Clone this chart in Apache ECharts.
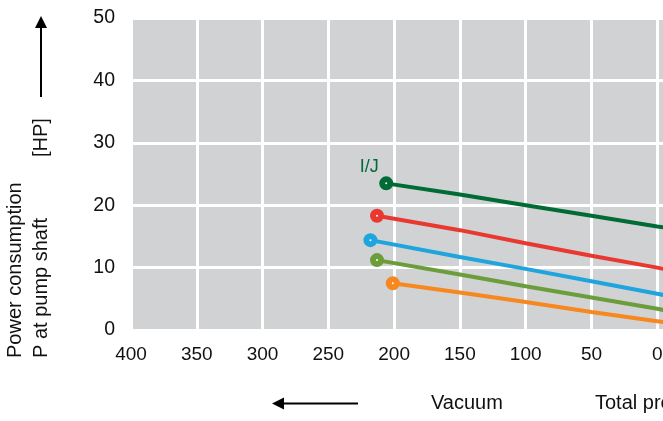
<!DOCTYPE html>
<html>
<head>
<meta charset="utf-8">
<script src="https://cdn.jsdelivr.net/npm/echarts@6/dist/echarts.min.js"></script>
<style>
html,body{margin:0;padding:0;background:#fff;}
#chart{width:663px;height:421px;}
</style>
</head>
<body>
<div id="chart"></div>
<script>
// Vacuum (x) and power consumption [HP] (y) for each curve
var darkGreenX = [206, 150, 100, 50, 0, -10];
var darkGreenY = [23.5, 21.7, 20.0, 18.3, 16.6, 16.3];
var redX = [213, 150, 100, 50, 0, -10];
var redY = [18.3, 16.0, 13.9, 11.9, 10.0, 9.6];
var blueX = [218, 150, 100, 50, 0, -10];
var blueY = [14.4, 11.7, 9.8, 7.8, 5.8, 5.4];
var lightGreenX = [213, 150, 100, 50, 0, -10];
var lightGreenY = [11.2, 8.9, 7.0, 5.2, 3.4, 3.0];
var orangeX = [201, 150, 100, 50, 0, -10];
var orangeY = [7.5, 6.0, 4.5, 2.9, 1.4, 1.1];
var curveLabel = 'I/J';
var yTicks = [0, 10, 20, 30, 40, 50];
var xTicks = [400, 350, 300, 250, 200, 150, 100, 50, 0];

var FONT = '"Liberation Sans", Arial, sans-serif';

function build(xs, ys, color, label) {
  return xs.map(function (x, i) {
    var item = { value: [x, ys[i]] };
    if (i === 0) {
      item.symbol = 'circle';
      if (label) {
        item.label = {
          show: true, formatter: label, position: 'top', offset: [-17, 5],
          color: color, fontSize: 18, fontFamily: FONT
        };
      }
    } else {
      item.symbol = 'none';
    }
    return item;
  });
}

function series(xs, ys, color, label) {
  return {
    type: 'line',
    data: build(xs, ys, color, label),
    symbol: 'circle',
    symbolSize: 8,
    showSymbol: true,
    showAllSymbol: true,
    lineStyle: { color: color, width: 4 },
    itemStyle: { color: '#ffffff', borderColor: color, borderWidth: 6 },
    emphasis: { disabled: true },
    silent: true,
    z: 3
  };
}

var chart = echarts.init(document.getElementById('chart'), null, { renderer: 'canvas' });
chart.setOption({
  animation: false,
  backgroundColor: '#fff',
  grid: {
    left: 131, top: 18, height: 312, width: 592,
    outerBoundsMode: 'none', containLabel: false,
    show: true, backgroundColor: '#d1d2d4', borderWidth: 0
  },
  xAxis: {
    type: 'value', inverse: true, min: -50, max: 400, interval: 50,
    axisLine: { show: false }, axisTick: { show: false },
    splitLine: { show: true, lineStyle: { color: '#ffffff', width: 3 } },
    axisLabel: {
      fontSize: 19, fontFamily: FONT, color: '#111', margin: 15,
      formatter: function (v) { return xTicks.indexOf(v) >= 0 ? String(v) : ''; }
    }
  },
  yAxis: {
    type: 'value', min: 0, max: 50, interval: 10,
    axisLine: { show: false }, axisTick: { show: false },
    splitLine: { show: true, lineStyle: { color: '#ffffff', width: 3 } },
    axisLabel: {
      fontSize: 19.5, fontFamily: FONT, color: '#111', margin: 16,
      formatter: function (v) { return yTicks.indexOf(v) >= 0 ? String(v) : ''; }
    }
  },
  series: [
    series(darkGreenX, darkGreenY, '#006b35', curveLabel),
    series(redX, redY, '#e8382f'),
    series(blueX, blueY, '#1fa5de'),
    series(lightGreenX, lightGreenY, '#6b9d3a'),
    series(orangeX, orangeY, '#f7871f')
  ],
  graphic: [
    { type: 'text', x: 15, y: 358, rotation: Math.PI / 2,
      style: { text: 'Power consumption', font: '20px ' + FONT, fill: '#111', textAlign: 'left', textVerticalAlign: 'middle' } },
    { type: 'text', x: 41, y: 358, rotation: Math.PI / 2,
      style: { text: 'P at pump shaft', font: '20px ' + FONT, fill: '#111', textAlign: 'left', textVerticalAlign: 'middle' } },
    { type: 'text', x: 41.5, y: 157, rotation: Math.PI / 2,
      style: { text: '[HP]', font: '20px ' + FONT, fill: '#111', textAlign: 'left', textVerticalAlign: 'middle' } },
    { type: 'line', shape: { x1: 41, y1: 97, x2: 41, y2: 26 }, style: { stroke: '#000', lineWidth: 2 } },
    { type: 'polygon', shape: { points: [[41, 16], [35, 28], [47, 28]] }, style: { fill: '#000' } },
    { type: 'line', shape: { x1: 358, y1: 403.5, x2: 281, y2: 403.5 }, style: { stroke: '#000', lineWidth: 2 } },
    { type: 'polygon', shape: { points: [[272, 403.5], [284, 397.5], [284, 409.5]] }, style: { fill: '#000' } },
    { type: 'text', x: 431, y: 403, style: { text: 'Vacuum', font: '20px ' + FONT, fill: '#111', textAlign: 'left', textVerticalAlign: 'middle' } },
    { type: 'text', x: 595, y: 403, style: { text: 'Total pressure', font: '20px ' + FONT, fill: '#111', textAlign: 'left', textVerticalAlign: 'middle' } }
  ]
});
</script>
</body>
</html>
